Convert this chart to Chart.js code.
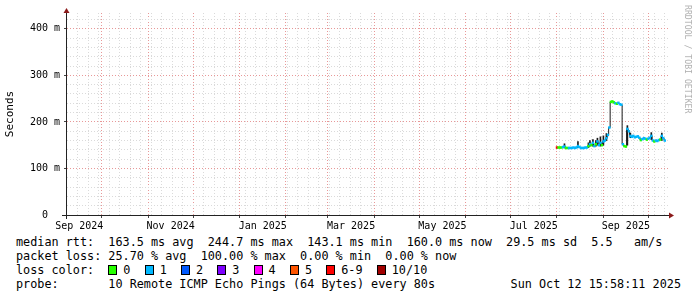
<!DOCTYPE html>
<html>
<head>
<meta charset="utf-8">
<script src="https://cdn.jsdelivr.net/npm/chart.js@4.4.0/dist/chart.umd.min.js"></script>
<style>
  html, body { margin: 0; padding: 0; background: #fff; }
  #wrap { position: relative; width: 697px; height: 297px; overflow: hidden; background: #fff; }
  #chartCanvas { position: absolute; left: 0; top: 0; }
  .legend { position: absolute; left: 16px; top: 235px; font-family: "DejaVu Sans Mono", monospace;
            font-size: 11.8px; line-height: 14px; color: #000; white-space: pre; }
  .box { display: inline-block; width: 7px; height: 8px; border: 1px solid #000; margin-right: 6px; vertical-align: -1px; }
  .stamp { position: absolute; right: 16px; top: 277px; font-family: "DejaVu Sans Mono", monospace;
           font-size: 11.8px; line-height: 14px; color: #000; white-space: pre; }
  .mark { position: absolute; left: 692px; top: 5px; transform-origin: 0 0; transform: rotate(90deg);
          font-family: "DejaVu Sans Mono", monospace; font-size: 8.2px; line-height: 8px; color: #b0b0b0; white-space: pre; }
</style>
</head>
<body>
<div id="wrap">
  <canvas id="chartCanvas" width="697" height="232"></canvas>
  <div class="legend"><div>median rtt:  163.5 ms avg  244.7 ms max  143.1 ms min  160.0 ms now  29.5 ms sd  5.5   am/s</div><div>packet loss: 25.70 % avg  100.00 % max  0.00 % min  0.00 % now</div><div id="lossRow">loss color:  </div><div>probe:       10 Remote ICMP Echo Pings (64 Bytes) every 80s</div></div>
  <div class="stamp">Sun Oct 12 15:58:11 2025</div>
  <div class="mark">RRDTOOL / TOBI OETIKER</div>
</div>
<script>
// ------- Data (x = days since 2024-10-01) -------
const days = [304, 305, 306, 307, 308, 309, 310, 311, 312, 313, 314, 315, 316, 317, 318, 319,
  320, 321, 322, 323, 324, 325, 326, 327, 328, 329, 330, 331, 332, 333, 334, 335, 336, 337, 338, 339,
  340, 341, 342, 343, 344, 345, 346, 347, 348, 349, 350, 351, 352, 353, 354, 355, 356, 357, 358, 359,
  360, 361, 362, 363, 364, 365, 366, 367, 368, 369, 370, 371, 372, 373, 374, 375, 376];

// median rtt in ms
const medianMs = [145, 145, 145, 145, 146, 147, 144, 144, 144, 144, 144, 145, 144, 145, 148, 146,
  144, 144, 144, 145, 145, 148, 152, 150, 155, 148, 152, 158, 150, 155, 150, 158, 160, 165, 172, 188,
  243, 244, 242, 240, 239, 241, 238, 237, 152, 148, 147, 185, 180, 170, 168, 170, 167, 168, 169, 166,
  161, 163, 165, 164, 162, 164, 166, 170, 160, 158, 160, 159, 161, 162, 170, 165, 160];

// lost pings out of 10
const lossCount = [8, 0, 0, 0, 1, 1, 0, 0, 1, 1, 1, 1, 1, 1, 1, 1,
  1, 1, 1, 1, 1, 0, 1, 0, 1, 1, 0, 1, 1, 1, 0, 1, 1, 1, 1, 1,
  0, 0, 0, 1, 0, 1, 1, 1, 1, 0, 0, 1, 1, 1, 1, 1, 1, 1, 1, 1,
  0, 1, 1, 1, 0, 1, 1, 1, 1, 0, 1, 1, 1, 0, 1, 1, 1];

// smoke spikes (ms)
const spikeDays = [309, 318, 325, 326, 328, 330, 331, 333, 335, 337, 351, 353, 367, 374];
const spikeLoMs = [144, 145, 145, 148, 148, 148, 150, 148, 150, 160, 150, 166, 162, 160];
const spikeHiMs = [153, 158, 155, 160, 162, 160, 165, 168, 170, 175, 192, 176, 177, 176];

const lossLegend = ["0", "1", "2", "3", "4", "5", "6-9", "10/10"];
const lossColors = ["#26ff00", "#00b8ff", "#0059ff", "#7e00ff", "#ff00ff", "#ff5500", "#ff0000", "#a10000"];

// month starts, Sep 2024 .. Oct 2025
const monthStartDays = [-30, 0, 31, 61, 92, 123, 151, 182, 212, 243, 273, 304, 335, 365];
const monthLabels = ["Sep 2024", "", "Nov 2024", "", "Jan 2025", "", "Mar 2025", "", "May 2025", "", "Jul 2025", "", "Sep 2025"];
const firstWeekDay = -2.0;

const xMin = -23.2, xMax = 378.8;
const yMax = 434;

// ------- Helpers -------
function lossBucket(n) {
  if (n <= 5) return n;
  if (n < 10) return 6;
  return 7;
}

const labelTicks = [];
monthLabels.forEach((lab, i) => {
  if (lab) labelTicks.push({ value: (monthStartDays[i] + monthStartDays[i + 1]) / 2, label: lab });
});
const weekTicks = [];
for (let d = firstWeekDay; d > xMin + 0.5; d -= 7) weekTicks.push(d);
for (let d = firstWeekDay + 7; d < xMax; d += 7) weekTicks.push(d);
const monthTicks = monthStartDays.filter((d) => d > xMin && d < xMax);

function xKind(v) {
  if (labelTicks.some((t) => Math.abs(t.value - v) < 1e-6)) return "label";
  if (monthTicks.some((t) => Math.abs(t - v) < 1e-6)) return "major";
  return "minor";
}

// legend row with loss colours
const lossRow = document.getElementById("lossRow");
lossLegend.forEach((lab, i) => {
  const b = document.createElement("span");
  b.className = "box";
  b.style.background = lossColors[i];
  lossRow.appendChild(b);
  lossRow.appendChild(document.createTextNode(lab + (i < lossLegend.length - 1 ? "  " : "")));
});

// axis lines with arrow heads, rrdtool style
const axisArrows = {
  id: "axisArrows",
  afterDatasetsDraw(chart) {
    const { ctx, chartArea: a } = chart;
    const ax = a.left - 0.5, ay = a.bottom + 0.5;
    ctx.save();
    ctx.strokeStyle = "#222";
    ctx.lineWidth = 1;
    ctx.beginPath();
    ctx.moveTo(a.left - 5, ay); ctx.lineTo(a.right + 1, ay);
    ctx.moveTo(ax, a.bottom + 4); ctx.lineTo(ax, a.top - 1);
    ctx.stroke();
    ctx.fillStyle = "#8b1a1a";
    ctx.beginPath();
    ctx.moveTo(ax - 3, a.top); ctx.lineTo(ax + 3, a.top); ctx.lineTo(ax, a.top - 5); ctx.closePath();
    ctx.fill();
    ctx.beginPath();
    ctx.moveTo(a.right, ay - 3); ctx.lineTo(a.right, ay + 3); ctx.lineTo(a.right + 5, ay); ctx.closePath();
    ctx.fill();
    ctx.restore();
  },
};

const minorGrid = "#dadada";
const majorGrid = "#e89898";

// ------- Chart -------
new Chart(document.getElementById("chartCanvas").getContext("2d"), {
  type: "line",
  data: {
    datasets: [
      {
        label: "median",
        order: 0,
        data: days.map((d, i) => ({ x: d, y: medianMs[i] })),
        showLine: false,
        pointStyle: "line",
        pointRadius: 1.2,
        pointBorderWidth: 2.5,
        pointBorderColor: lossCount.map((n) => lossColors[lossBucket(n)]),
      },
      {
        type: "bar",
        label: "smoke",
        order: 1,
        data: spikeDays.map((d, i) => ({ x: d, y: [spikeLoMs[i], spikeHiMs[i]] })),
        backgroundColor: "#1a1a1a",
        barThickness: 1,
      },
      {
        label: "rtt",
        order: 2,
        data: days.map((d, i) => ({ x: d, y: medianMs[i] })),
        stepped: "middle",
        borderColor: "#1a1a1a",
        borderWidth: 1,
        pointRadius: 0,
      },
    ],
  },
  options: {
    responsive: false,
    animation: false,
    layout: { padding: { left: 0, top: 13, right: 28, bottom: 0 } },
    plugins: { legend: { display: false }, tooltip: { enabled: false } },
    scales: {
      x: {
        type: "linear",
        min: xMin,
        max: xMax,
        offset: false,
        afterBuildTicks(s) {
          const vals = [...weekTicks, ...monthTicks, ...labelTicks.map((t) => t.value)].sort((p, q) => p - q);
          s.ticks = vals.map((v) => ({ value: v }));
        },
        afterFit(s) { s.height = 17; },
        ticks: {
          autoSkip: false,
          maxRotation: 0,
          padding: 2,
          color: "#000",
          font: { family: "DejaVu Sans Mono", size: 10 },
          callback(v) {
            const t = labelTicks.find((l) => Math.abs(l.value - v) < 1e-6);
            return t ? t.label : "";
          },
        },
        grid: {
          offset: false,
          tickLength: 3,
          color: (c) => {
            const k = xKind(c.tick.value);
            return k === "label" ? "rgba(0,0,0,0)" : k === "major" ? majorGrid : minorGrid;
          },
          tickColor: (c) => (xKind(c.tick.value) === "major" ? "#444" : "rgba(0,0,0,0)"),
        },
        border: { display: false, dash: [1, 2] },
      },
      y: {
        type: "linear",
        min: 0,
        max: yMax,
        afterBuildTicks(s) {
          const vals = [];
          for (let v = 0; v <= yMax; v += 20) vals.push(v);
          s.ticks = vals.map((v) => ({ value: v }));
        },
        afterFit(s) { s.width = 67; },
        title: {
          display: true,
          text: "Seconds",
          color: "#000",
          font: { family: "DejaVu Sans Mono", size: 11 },
          padding: { top: 4, bottom: 0 },
        },
        ticks: {
          autoSkip: false,
          padding: 4,
          color: "#000",
          font: { family: "DejaVu Sans Mono", size: 10 },
          callback(v) {
            if (v === 0) return "0  ";
            return v % 100 === 0 ? `${v} m` : "";
          },
        },
        grid: {
          tickLength: 3,
          color: (c) => {
            const v = c.tick.value;
            if (v === 0) return "rgba(0,0,0,0)";
            return v % 100 === 0 ? majorGrid : minorGrid;
          },
          tickColor: (c) => (c.tick.value % 100 === 0 && c.tick.value > 0 ? "#444" : "rgba(0,0,0,0)"),
        },
        border: { display: false, dash: [1, 2] },
      },
    },
  },
  plugins: [axisArrows],
});
</script>
</body>
</html>
